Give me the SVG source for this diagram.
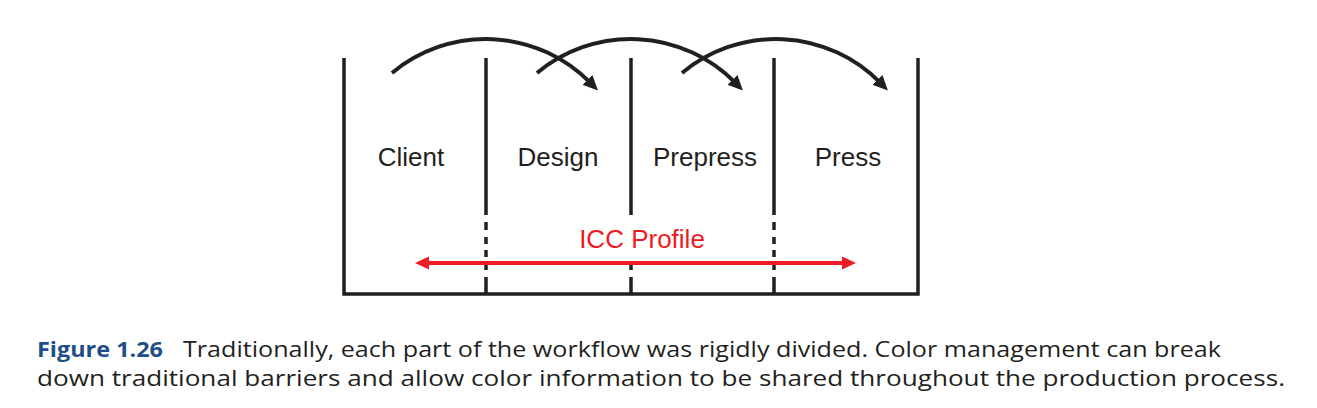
<svg xmlns="http://www.w3.org/2000/svg" width="1317" height="408" viewBox="0 0 1317 408">
<style>
.ln{fill:none;stroke:#231f20;stroke-width:3.5}
.arc{fill:none;stroke:#231f20;stroke-width:4}
.lbl{font-family:"Liberation Sans",Arial,sans-serif;font-size:26px;fill:#231f20;text-anchor:middle}
.red{font-family:"Liberation Sans",Arial,sans-serif;font-size:26px;fill:#ed1c24;text-anchor:middle}
.cap{font-family:"Open Sans","Noto Sans",sans-serif;font-size:21px;fill:#231f20}
.fig{font-family:"Open Sans","Noto Sans",sans-serif;font-size:21px;font-weight:bold;fill:#1f4e89}
</style>
<defs>
<marker id="ah" markerUnits="userSpaceOnUse" viewBox="-4 -8 16 16" refX="0" refY="0" markerWidth="16" markerHeight="16" orient="auto">
<path d="M-4,-7 L11,0 L-4,7 z" fill="#231f20"/>
</marker>
<marker id="rh" markerUnits="userSpaceOnUse" viewBox="-2 -8 16 16" refX="0" refY="0" markerWidth="16" markerHeight="16" orient="auto-start-reverse">
<path d="M-2,-6.5 L12,0 L-2,6.5 z" fill="#ed1c24"/>
</marker>
</defs>
<g id="frame">
<path class="ln" d="M344 58 V294 H918 V58" stroke-linejoin="miter"/>
</g>
<g id="dividers">
<path class="ln" d="M486 58 V215 M486 222 V230 M486 237 V244 M486 250 V257 M486 263 V270 M486 277 V294"/>
<path class="ln" d="M631 58 V215 M631 263 V270 M631 277 V294"/>
<path class="ln" d="M774 58 V215 M774 222 V230 M774 237 V244 M774 250 V257 M774 263 V270 M774 277 V294"/>
</g>
<g id="node-client"><text class="lbl" x="411" y="166">Client</text></g>
<g id="node-design"><text class="lbl" x="558" y="166">Design</text></g>
<g id="node-prepress"><text class="lbl" x="705" y="166">Prepress</text></g>
<g id="node-press"><text class="lbl" x="848" y="166">Press</text></g>
<g id="connectors">
<path class="arc" d="M392 73 A146.6 146.6 0 0 1 590.2 82.6" marker-end="url(#ah)"/>
<path class="arc" d="M537 73 A146.6 146.6 0 0 1 735.2 82.6" marker-end="url(#ah)"/>
<path class="arc" d="M682 73 A146.6 146.6 0 0 1 880.2 82.6" marker-end="url(#ah)"/>
<path d="M427 263 H844" stroke="#ed1c24" stroke-width="4" fill="none" marker-start="url(#rh)" marker-end="url(#rh)"/>
</g>
<g id="icc-label"><text class="red" x="642" y="248">ICC Profile</text></g>
<g id="caption">
<text class="fig" x="37" y="357" textLength="126" lengthAdjust="spacingAndGlyphs">Figure 1.26</text>
<text class="cap" x="183" y="357" textLength="1038" lengthAdjust="spacingAndGlyphs">Traditionally, each part of the workflow was rigidly divided. Color management can break</text>
<text class="cap" x="37" y="386" textLength="1248" lengthAdjust="spacingAndGlyphs">down traditional barriers and allow color information to be shared throughout the production process.</text>
</g>
</svg>
